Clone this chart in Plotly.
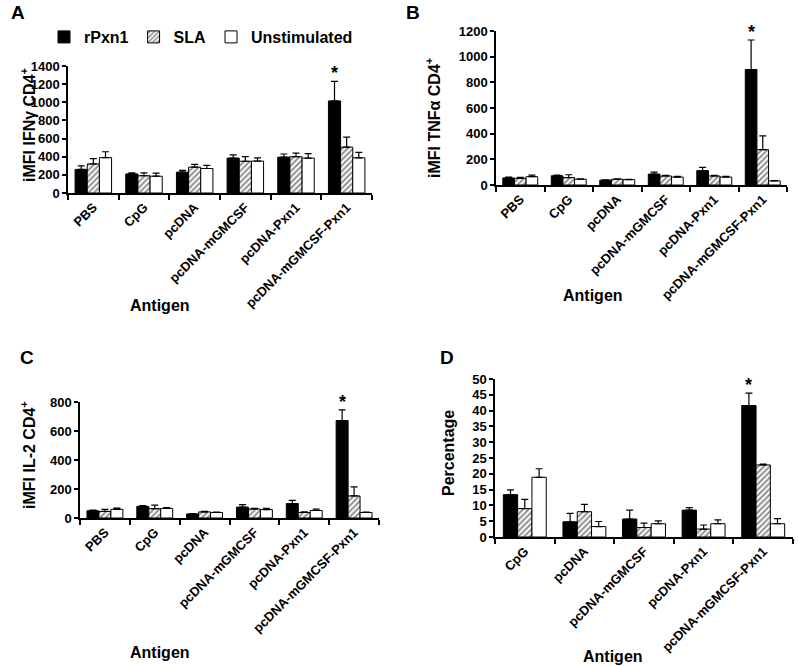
import plotly.graph_objects as go

# ---------------- data ----------------
cats6 = ["PBS", "CpG", "pcDNA", "pcDNA-mGMCSF", "pcDNA-Pxn1", "pcDNA-mGMCSF-Pxn1"]
cats5 = ["CpG", "pcDNA", "pcDNA-mGMCSF", "pcDNA-Pxn1", "pcDNA-mGMCSF-Pxn1"]
series_names = ["rPxn1", "SLA", "Unstimulated"]

# Panel A: iMFI IFNγ CD4+
a_rpxn1 = [260, 210, 230, 385, 395, 1015]
a_rpxn1_err = [40, 12, 20, 35, 35, 215]
a_sla = [320, 190, 285, 350, 400, 505]
a_sla_err = [60, 32, 30, 50, 40, 110]
a_unst = [390, 185, 270, 352, 385, 388]
a_unst_err = [65, 35, 35, 36, 50, 59]

# Panel B: iMFI TNFα CD4+
b_rpxn1 = [55, 72, 38, 85, 112, 900]
b_rpxn1_err = [7, 5, 3, 15, 25, 230]
b_sla = [52, 58, 45, 70, 70, 275]
b_sla_err = [8, 22, 3, 5, 5, 108]
b_unst = [65, 45, 42, 62, 62, 32]
b_unst_err = [12, 3, 3, 5, 6, 2]

# Panel C: iMFI IL-2 CD4+
c_rpxn1 = [50, 80, 28, 75, 100, 672]
c_rpxn1_err = [5, 5, 2, 17, 22, 73]
c_sla = [45, 64, 42, 62, 38, 152]
c_sla_err = [15, 25, 3, 4, 4, 62]
c_unst = [60, 66, 38, 58, 52, 38]
c_unst_err = [8, 5, 2, 8, 10, 2]

# Panel D: Percentage
d_rpxn1 = [13.4, 4.8, 5.7, 8.5, 41.6]
d_rpxn1_err = [1.5, 2.7, 2.8, 0.8, 3.9]
d_sla = [9.0, 8.0, 3.0, 2.5, 22.8]
d_sla_err = [2.9, 2.3, 1.4, 1.3, 0.3]
d_unst = [18.9, 3.3, 4.2, 4.2, 4.2]
d_unst_err = [2.7, 1.6, 0.9, 1.2, 1.6]

# ---------------- styling ----------------
W, H = 798, 666
FONT = "Liberation Sans, Arial, sans-serif"
BARGAP = 0.28

def bfont(size):
    return dict(family=FONT, size=size, color="black", weight="bold")

styles = [
    dict(marker=dict(color="black", line=dict(color="black", width=1))),
    dict(marker=dict(color="white", line=dict(color="black", width=1),
                     pattern=dict(shape="/", fgcolor="#222222", bgcolor="white",
                                  size=4, solidity=0.5))),
    dict(marker=dict(color="white", line=dict(color="black", width=1))),
]

panels = [
    dict(ax="", cats=cats6, data=[(a_rpxn1, a_rpxn1_err), (a_sla, a_sla_err), (a_unst, a_unst_err)],
         xdom=(68, 372), ydom=(66, 193), yrange=1400, dtick=200,
         letter="A", letter_pos=(18, 13), ytitle="iMFI IFNγ CD4<sup>+</sup>", ytitle_pos=(28, 125),
         xtitle_pos=(160, 305)),
    dict(ax="2", cats=cats6, data=[(b_rpxn1, b_rpxn1_err), (b_sla, b_sla_err), (b_unst, b_unst_err)],
         xdom=(496, 787), ydom=(31, 185), yrange=1200, dtick=200,
         letter="B", letter_pos=(413, 12), ytitle="iMFI TNFα CD4<sup>+</sup>", ytitle_pos=(433, 118),
         xtitle_pos=(593, 295)),
    dict(ax="3", cats=cats6, data=[(c_rpxn1, c_rpxn1_err), (c_sla, c_sla_err), (c_unst, c_unst_err)],
         xdom=(80, 379), ydom=(402, 518), yrange=800, dtick=200,
         letter="C", letter_pos=(27, 357), ytitle="iMFI IL-2 CD4<sup>+</sup>", ytitle_pos=(28, 455),
         xtitle_pos=(160, 652)),
    dict(ax="4", cats=cats5, data=[(d_rpxn1, d_rpxn1_err), (d_sla, d_sla_err), (d_unst, d_unst_err)],
         xdom=(495, 793), ydom=(379, 537), yrange=50, dtick=5,
         letter="D", letter_pos=(447, 357), ytitle="Percentage", ytitle_pos=(448, 453),
         xtitle_pos=(613, 656)),
]

fig = go.Figure()
annotations = []
layout = {}

for pi, p in enumerate(panels):
    xa = "x" + p["ax"]
    ya = "y" + p["ax"]
    for si, (vals, errs) in enumerate(p["data"]):
        fig.add_trace(go.Bar(
            x=p["cats"], y=vals, name=series_names[si],
            xaxis=xa, yaxis=ya,
            offsetgroup=str(si),
            showlegend=(pi == 0),
            error_y=dict(type="data", array=errs, arrayminus=[0] * len(errs),
                         symmetric=False, color="black", thickness=1.2, width=3.5),
            **styles[si],
        ))
    # asterisk above rPxn1 bar of last category
    rv, re = p["data"][0]
    last = len(p["cats"]) - 1
    bw = (1 - BARGAP) / 3
    annotations.append(dict(
        x=last - bw, y=rv[last] + re[last], xref=xa, yref=ya,
        text="*", showarrow=False, yanchor="bottom", yshift=-4,
        font=bfont(18)))
    # panel letter
    annotations.append(dict(
        x=p["letter_pos"][0] / W, y=1 - p["letter_pos"][1] / H, xref="paper", yref="paper",
        text=p["letter"], showarrow=False, xanchor="center", yanchor="middle",
        font=bfont(19)))
    # y title
    annotations.append(dict(
        x=p["ytitle_pos"][0] / W, y=1 - p["ytitle_pos"][1] / H, xref="paper", yref="paper",
        text=p["ytitle"], showarrow=False, textangle=-90,
        xanchor="center", yanchor="middle",
        font=bfont(16)))
    # x title
    annotations.append(dict(
        x=p["xtitle_pos"][0] / W, y=1 - p["xtitle_pos"][1] / H, xref="paper", yref="paper",
        text="Antigen", showarrow=False, xanchor="center", yanchor="middle",
        font=bfont(16)))

    layout["xaxis" + p["ax"]] = dict(
        domain=[p["xdom"][0] / W, p["xdom"][1] / W], anchor=ya,
        type="category", tickson="boundaries", ticks="outside", ticklen=5,
        tickwidth=1.5, tickcolor="black", showline=True, linecolor="black", linewidth=1.5,
        tickangle=-45, showgrid=False, zeroline=False, automargin=False,
        tickfont=bfont(13),
        categoryorder="array", categoryarray=p["cats"],
    )
    layout["yaxis" + p["ax"]] = dict(
        domain=[1 - p["ydom"][1] / H, 1 - p["ydom"][0] / H], anchor=xa,
        range=[0, p["yrange"]], dtick=p["dtick"], tick0=0,
        ticks="outside", ticklen=4, tickwidth=1.5, tickcolor="black",
        showline=True, linecolor="black", linewidth=1.5, showgrid=False, zeroline=False,
        automargin=False, tickfont=bfont(13),
    )

fig.update_layout(
    width=W, height=H,
    margin=dict(l=0, r=0, t=0, b=0, autoexpand=False),
    paper_bgcolor="white", plot_bgcolor="white",
    barmode="group", bargap=BARGAP, bargroupgap=0,
    font=dict(family=FONT, color="black"),
    legend=dict(orientation="h", x=44 / W, y=1 - 20 / H, xanchor="left", yanchor="top",
                font=bfont(16), itemwidth=30, tracegroupgap=0,
                bgcolor="rgba(0,0,0,0)"),
    annotations=annotations,
    **layout,
)

fig.write_html("out.html", config={"displayModeBar": False},
               post_script="document.body.style.margin='0';document.body.style.overflow='hidden';")
